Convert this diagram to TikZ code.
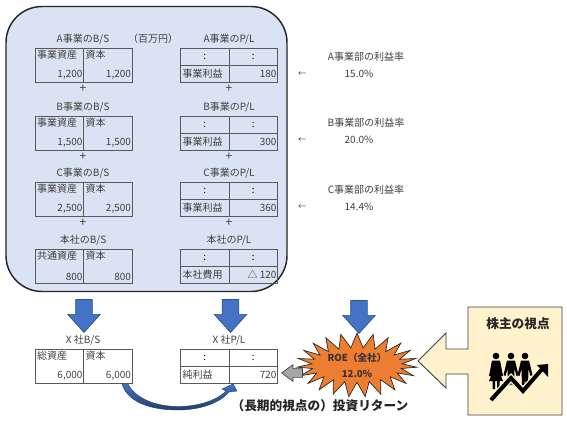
\documentclass[tikz,border=0pt]{standalone}
\usepackage{fontspec}
\setmainfont{Noto Sans CJK JP}
\usetikzlibrary{arrows.meta,positioning,shapes.arrows,shapes.symbols}
\definecolor{panelblue}{HTML}{DAE3F3}
\definecolor{arrowblue}{HTML}{4472C4}
\definecolor{arrowedge}{HTML}{2F528F}
\definecolor{burstorange}{HTML}{ED7D31}
\definecolor{holderyellow}{HTML}{FFF2CC}
\tikzset{
    panel/.style={draw=black!85, line width=1.1pt, fill=panelblue, rounded corners=27pt,
        minimum width=281*0.75pt, minimum height=285*0.75pt},
    txt/.style={font=\fontsize{7.5}{9}\selectfont, text=black!75, inner sep=0pt, outer sep=0pt},
    plus/.style={font=\fontsize{9}{9}\selectfont, text=black!75, inner sep=0pt, outer sep=0pt},
    cellbs/.style={draw=black!65, line width=0.6pt, minimum width=48.5*0.75pt, minimum height=34*0.75pt, inner sep=0pt, outer sep=0pt},
    cellpl/.style={draw=black!65, line width=0.6pt, minimum width=48.5*0.75pt, minimum height=17*0.75pt, inner sep=0pt, outer sep=0pt},
    downarrow/.style={single arrow, draw=arrowedge, fill=arrowblue, line width=0.5pt, rotate=-90, anchor=tip,
        minimum height=33*0.75pt, minimum width=32*0.75pt, single arrow head extend=6pt,
        single arrow tip angle=84, inner xsep=0pt, inner ysep=6pt},
    backarrow/.style={single arrow, draw=black!75, fill=black!35, line width=0.5pt, shape border rotate=180, anchor=tip,
        minimum height=21*0.75pt, minimum width=16*0.75pt, single arrow head extend=3pt,
        single arrow tip angle=72, inner xsep=0pt, inner ysep=3pt},
    burst/.style={starburst, draw=black!85, fill=burstorange, line width=0.5pt, starburst points=23,
        starburst point height=11pt, random starburst=0, align=center, inner sep=0pt,
        minimum width=90pt, minimum height=43pt,
        font=\fontsize{7.2}{12}\selectfont\bfseries, text=black!80},
    boldtxt/.style={font=\fontsize{9.5}{11}\selectfont\bfseries, text=black!85, inner sep=0pt}
}
% one balance sheet: name, x, y of top left, title, left head, left value, right value
\newcommand{\bsbox}[7]{
    \node[cellbs, anchor=north west] (#1left) at (#2,#3) {};
    \node[cellbs, right=0pt of #1left] (#1right) {};
    \node[txt] (#1title) at (#2+48,#3-9) {#4};
    \node[txt, anchor=north west] at ([xshift=1.5pt,yshift=-1.5pt]#1left.north west) {#5};
    \node[txt, anchor=north west] at ([xshift=1.5pt,yshift=-1.5pt]#1right.north west) {資本};
    \node[txt, anchor=south east] at ([xshift=-0.8pt,yshift=2pt]#1left.south east) {#6};
    \node[txt, anchor=south east] at ([xshift=-0.8pt,yshift=2pt]#1right.south east) {#7};
}
% one income statement: name, x, y of top left, title, left head, value
\newcommand{\plbox}[6]{
    \node[cellpl, anchor=north west] (#1a) at (#2,#3) {\fontsize{7.4}{9}\selectfont :};
    \node[cellpl, right=0pt of #1a] (#1b) {\fontsize{7.4}{9}\selectfont :};
    \node[cellpl, below=0pt of #1a] (#1c) {};
    \node[cellpl, below=0pt of #1b] (#1d) {};
    \node[txt] (#1title) at (#2+48.5,#3-9) {#4};
    \node[txt, anchor=west] at ([xshift=1.5pt]#1c.west) {#5};
    \node[txt, anchor=east] at ([xshift=-0.8pt]#1d.east) {#6};
}
\begin{document}
\begin{tikzpicture}[x=0.75pt,y=-0.75pt]
\useasboundingbox (0,0) rectangle (567,428);
\node[panel] (group) at (146.5,149) {};
\bsbox{abs}{35}{48}{A事業のB/S}{事業資産}{1,200}{1,200}
\bsbox{bbs}{35}{116}{B事業のB/S}{事業資産}{1,500}{1,500}
\bsbox{cbs}{35}{182}{C事業のB/S}{事業資産}{2,500}{2,500}
\bsbox{hbs}{35}{249}{本社のB/S}{共通資産}{800}{800}
\bsbox{xbs}{35}{349}{X 社B/S}{総資産}{6,000}{6,000}
\plbox{apl}{180.5}{48}{A事業のP/L}{事業利益}{180}
\plbox{bpl}{180.5}{116}{B事業のP/L}{事業利益}{300}
\plbox{cpl}{180.5}{182}{C事業のP/L}{事業利益}{360}
\plbox{hpl}{180.5}{249}{本社のP/L}{本社費用}{△ 120}
\plbox{xpl}{180.5}{349}{X 社P/L}{純利益}{720}
\node[txt] (unit) at (153,39) {（百万円）};
\foreach \px/\py in {83/89,83/157,83/223,229/89,229/157,229/223}
    \node[plus] at (\px,\py) {+};
% profit rates beside the statements
\foreach \ry/\rname/\rval in {57/A/15.0\%,123/B/20.0\%,190/C/14.4\%}{
    \node[txt] (rate\rname) at (366,\ry) {\rname 事業部の利益率};
    \node[txt] (val\rname) at (359,\ry+17) {\rval};
    \node[txt, font=\fontsize{6}{8}\selectfont] (from\rname) at (302,\ry+17) {←};
}
% block arrows
\node[downarrow] (bsdown) at (84,333) {};
\node[downarrow] (pldown) at (230.5,333) {};
\node[downarrow] (roedown) at (359,334) {};
\node[burst] (roe) at (357,365) {ROE（全社）\\12.0\%};
\node[backarrow] (toprofit) at (281,373) {};
% tapered arrow under the statements
\coordinate (bendfrom) at (122,384);
\coordinate (bendtip) at (233,384);
\draw[draw=arrowedge!70!black, top color=arrowblue, bottom color=arrowedge!75!black, line width=0.3pt] (bendfrom)
    .. controls (128,403) and (152,410) .. (178,410)
    .. controls (200,410) and (220,403) .. (229,392) -- (237,391) -- (bendtip) -- (222,389) -- (226,391)
    .. controls (215,402) and (195,406.5) .. (178,406.5)
    .. controls (155,406.5) and (135,398) .. (128,384) -- cycle;
\node[boldtxt] (returns) at (320,406) {（長期的視点の）投資リターン};
% shareholder callout
\draw[draw=black!75, fill=holderyellow, line width=0.7pt] (468,307) -- (562,307) -- (562,415) -- (468,415)
    -- (468,374) -- (446,374) -- (446,388) -- (418,361) -- (446,333) -- (446,349) -- (468,349) -- cycle;
\node[boldtxt] (holder) at (518,324) {株主の視点};
% people and rising line
\foreach \hx in {496,511,525}
    \fill (\hx,356) circle (3.3);
\fill (492,360.5) -- (500,360.5) -- (503,376) -- (501,376) -- (503,381) -- (499.5,381) -- (499.5,389) -- (497,389)
    -- (497,381) -- (495,381) -- (495,389) -- (492.5,389) -- (492.5,381) -- (489,381) -- (491,376) -- (489,376) -- cycle;
\foreach \hx in {511,525}
    \fill (\hx-4,360.5) -- (\hx+4,360.5) -- (\hx+7.5,375) -- (\hx+5.5,376) -- (\hx+3.5,369) -- (\hx+3,385) -- (\hx+.5,385) -- (\hx,377)
        -- (\hx-.5,385) -- (\hx-3,385) -- (\hx-3.5,369) -- (\hx-5.5,376) -- (\hx-7.5,375) -- cycle;
\draw[holderyellow, line width=5pt] (491,400) -- (511,378) -- (523,391) -- (543,368);
\draw[line width=3pt] (491,400) -- (511,378) -- (523,391) -- (543,368);
\fill (548,364) -- (537,365) -- (548,377) -- cycle;
\end{tikzpicture}
\end{document}
